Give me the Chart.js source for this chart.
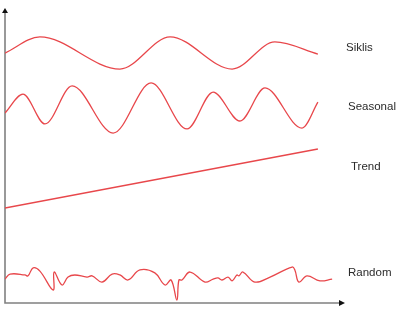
<!DOCTYPE html>
<html>
<head>
<meta charset="utf-8">
<script src="https://cdn.jsdelivr.net/npm/chart.js@4.4.1/dist/chart.umd.min.js"></script>
<style>
  html, body { margin: 0; padding: 0; background: #ffffff; }
  #wrap { width: 404px; height: 324px; }
</style>
</head>
<body>
<div id="wrap"><canvas id="komponen" width="404" height="324"></canvas></div>
<script>
// series names (shown on the right side)
const seriesNames = ['Siklis', 'Seasonal', 'Trend', 'Random'];

// Siklis (cyclical)
const siklisX = [0, 10.3, 33.9, 48.7, 67.0, 79.6, 92.3];
const siklisY = [84.7, 90.2, 79.3, 90.2, 79.3, 88.5, 84.4];

// Seasonal
const seasonalX = [0, 5.3, 11.8, 19.8, 31.9, 43.1, 53.7, 61.4, 69.3, 76.7, 87.6, 92.3];
const seasonalY = [64.4, 70.8, 60.7, 73.6, 57.6, 74.6, 59.0, 71.5, 61.7, 72.9, 59.3, 68.1];

// Trend
const trendX = [0, 92.3];
const trendY = [32.2, 52.2];

// Random (irregular)
const randomX = [0, 1.5, 5.9, 6.8, 8.3, 10.3, 14.2, 14.5, 16.8, 18.6, 20.6, 24.2, 25.7, 28.6, 31.6, 33.9,
  36.3, 39.8, 44.2, 47.2, 49.0, 50.7, 51.3, 52.2, 54.6, 59.0, 61.4, 62.8, 64.0, 65.8, 67.0, 68.4,
  69.0, 70.2, 73.7, 78.2, 84.7, 85.5, 86.7, 89.1, 92.9, 96.5];
const randomY = [8.1, 9.8, 9.5, 9.2, 11.9, 10.8, 4.4, 10.5, 6.1, 8.8, 9.5, 8.8, 9.2, 7.1, 9.8, 9.5,
  7.8, 11.2, 10.2, 6.1, 7.8, 1.0, 7.8, 7.8, 10.5, 7.1, 8.1, 8.5, 7.8, 8.8, 7.5, 9.5,
  9.2, 10.5, 7.1, 8.8, 12.2, 11.2, 7.1, 9.2, 7.5, 8.1];

function toPoints(xs, ys) {
    return xs.map(function (x, i) { return { x: x, y: ys[i] }; });
}

const lineColor = '#e8474b';

function makeSet(name, xs, ys, mode) {
    return {
        label: name,
        data: toPoints(xs, ys),
        borderColor: lineColor,
        borderWidth: 1.3,
        pointRadius: 0,
        fill: false,
        tension: 0.4,
        cubicInterpolationMode: mode
    };
}

// axes with arrow heads, drawn on the chart area edges
const axisArrows = {
    id: 'axisArrows',
    beforeDatasetsDraw(chart) {
        const c = chart.ctx;
        const a = chart.chartArea;
        c.save();
        c.strokeStyle = '#808080';
        c.lineWidth = 1.6;
        c.beginPath();
        c.moveTo(a.left, a.top + 4);
        c.lineTo(a.left, a.bottom);
        c.lineTo(a.right - 4, a.bottom);
        c.stroke();
        c.fillStyle = '#111111';
        c.beginPath();
        c.moveTo(a.left, a.top);
        c.lineTo(a.left - 3, a.top + 5);
        c.lineTo(a.left + 3, a.top + 5);
        c.closePath();
        c.fill();
        c.beginPath();
        c.moveTo(a.right + 1, a.bottom);
        c.lineTo(a.right - 5, a.bottom - 3);
        c.lineTo(a.right - 5, a.bottom + 3);
        c.closePath();
        c.fill();
        c.restore();
    }
};

// names next to each curve
const sideLabels = {
    id: 'sideLabels',
    afterDraw(chart) {
        const c = chart.ctx;
        const a = chart.chartArea;
        const ys = chart.scales.y;
        const yAt = [86.4, 66.4, 46.1, 10.2];
        const dx = [2, 4, 7, 4];
        c.save();
        c.font = '11.5px "Liberation Sans", Arial, sans-serif';
        c.fillStyle = '#2b2b2b';
        c.textAlign = 'left';
        c.textBaseline = 'middle';
        seriesNames.forEach(function (name, i) {
            c.fillText(name, a.right + dx[i], ys.getPixelForValue(yAt[i]));
        });
        c.restore();
    }
};

const ctx = document.getElementById('komponen');
new Chart(ctx, {
    type: 'line',
    data: {
        datasets: [
            makeSet(seriesNames[0], siklisX, siklisY, 'monotone'),
            makeSet(seriesNames[1], seasonalX, seasonalY, 'monotone'),
            makeSet(seriesNames[2], trendX, trendY, 'monotone'),
            makeSet(seriesNames[3], randomX, randomY, 'default')
        ]
    },
    options: {
        responsive: false,
        animation: false,
        layout: {
            padding: { left: 5, top: 8, right: 60, bottom: 21 }
        },
        scales: {
            x: { type: 'linear', min: 0, max: 100, display: false },
            y: { min: 0, max: 100, display: false }
        },
        plugins: {
            legend: { display: false },
            tooltip: { enabled: false }
        }
    },
    plugins: [axisArrows, sideLabels]
});
</script>
</body>
</html>
